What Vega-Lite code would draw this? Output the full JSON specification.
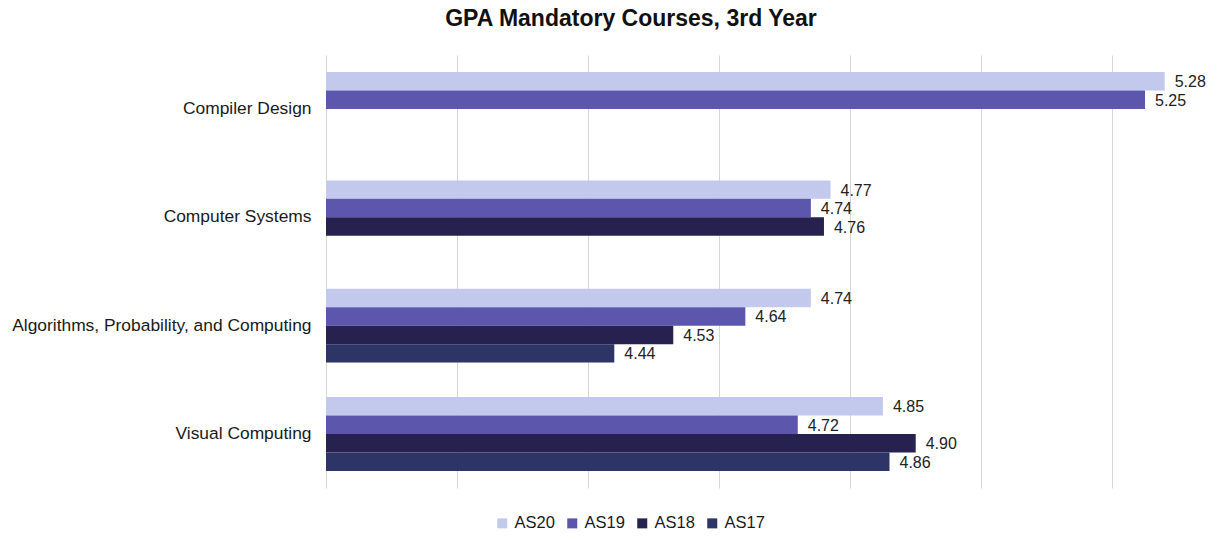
{
  "$schema": "https://vega.github.io/schema/vega-lite/v6.json",
  "autosize": "none",
  "width": 878,
  "height": 433,
  "padding": {"left": 326, "top": 55, "right": 15, "bottom": 52},
  "background": "#ffffff",
  "config": {"view": {"stroke": null}, "font": "Liberation Sans"},
  "title": {"text": "GPA Mandatory Courses, 3rd Year", "fontSize": 23, "fontWeight": "bold", "color": "#111111", "anchor": "middle", "dx": -134, "offset": 24, "font": "Liberation Sans"},
  "data": {"values": [
    {"course": "Compiler Design", "cohort": "AS20", "gpa": 5.28},
    {"course": "Compiler Design", "cohort": "AS19", "gpa": 5.25},
    {"course": "Computer Systems", "cohort": "AS20", "gpa": 4.77},
    {"course": "Computer Systems", "cohort": "AS19", "gpa": 4.74},
    {"course": "Computer Systems", "cohort": "AS18", "gpa": 4.76},
    {"course": "Algorithms, Probability, and Computing", "cohort": "AS20", "gpa": 4.74},
    {"course": "Algorithms, Probability, and Computing", "cohort": "AS19", "gpa": 4.64},
    {"course": "Algorithms, Probability, and Computing", "cohort": "AS18", "gpa": 4.53},
    {"course": "Algorithms, Probability, and Computing", "cohort": "AS17", "gpa": 4.44},
    {"course": "Visual Computing", "cohort": "AS20", "gpa": 4.85},
    {"course": "Visual Computing", "cohort": "AS19", "gpa": 4.72},
    {"course": "Visual Computing", "cohort": "AS18", "gpa": 4.90},
    {"course": "Visual Computing", "cohort": "AS17", "gpa": 4.86}
  ]},
  "encoding": {
    "y": {"field": "course", "type": "nominal", "sort": ["Compiler Design", "Computer Systems", "Algorithms, Probability, and Computing", "Visual Computing"],
      "scale": {"paddingInner": 0.317, "paddingOuter": 0.158},
      "axis": {"title": null, "ticks": false, "domain": false, "labelFontSize": 17.4, "labelColor": "#1a1a1a", "labelPadding": 15, "labelFont": "Liberation Sans", "labelLimit": 400}},
    "yOffset": {"field": "cohort", "type": "nominal", "scale": {"domain": ["AS20", "AS19", "AS18", "AS17"], "paddingInner": 0, "paddingOuter": 0}},
    "x": {"field": "gpa", "type": "quantitative", "scale": {"domain": [4.0, 5.34], "nice": false, "zero": false},
      "axis": {"title": null, "labels": false, "ticks": false, "domain": false, "values": [4.0, 4.2, 4.4, 4.6, 4.8, 5.0, 5.2], "grid": true, "gridColor": "#d6d6d6", "gridWidth": 1}}
  },
  "layer": [
    {"mark": {"type": "bar", "cornerRadius": 0},
      "encoding": {"x2": {"datum": 4.0},
        "color": {"field": "cohort", "type": "nominal",
        "scale": {"domain": ["AS20", "AS19", "AS18", "AS17"], "range": ["#c3c9ec", "#5c56ac", "#26214f", "#2d3566"]},
        "legend": {"title": null, "orient": "none", "direction": "horizontal", "legendX": 168, "legendY": 460, "symbolType": "square", "symbolSize": 100, "symbolStrokeWidth": 0, "labelFontSize": 16.5, "labelColor": "#1a1a1a", "labelFont": "Liberation Sans", "columnPadding": 9, "labelOffset": 4}}}},
    {"mark": {"type": "text", "align": "left", "baseline": "middle", "dx": 10, "dy": 1, "fontSize": 16, "color": "#222222", "font": "Liberation Sans"},
      "encoding": {"text": {"field": "gpa", "type": "quantitative", "format": ".2f"}}}
  ]
}
